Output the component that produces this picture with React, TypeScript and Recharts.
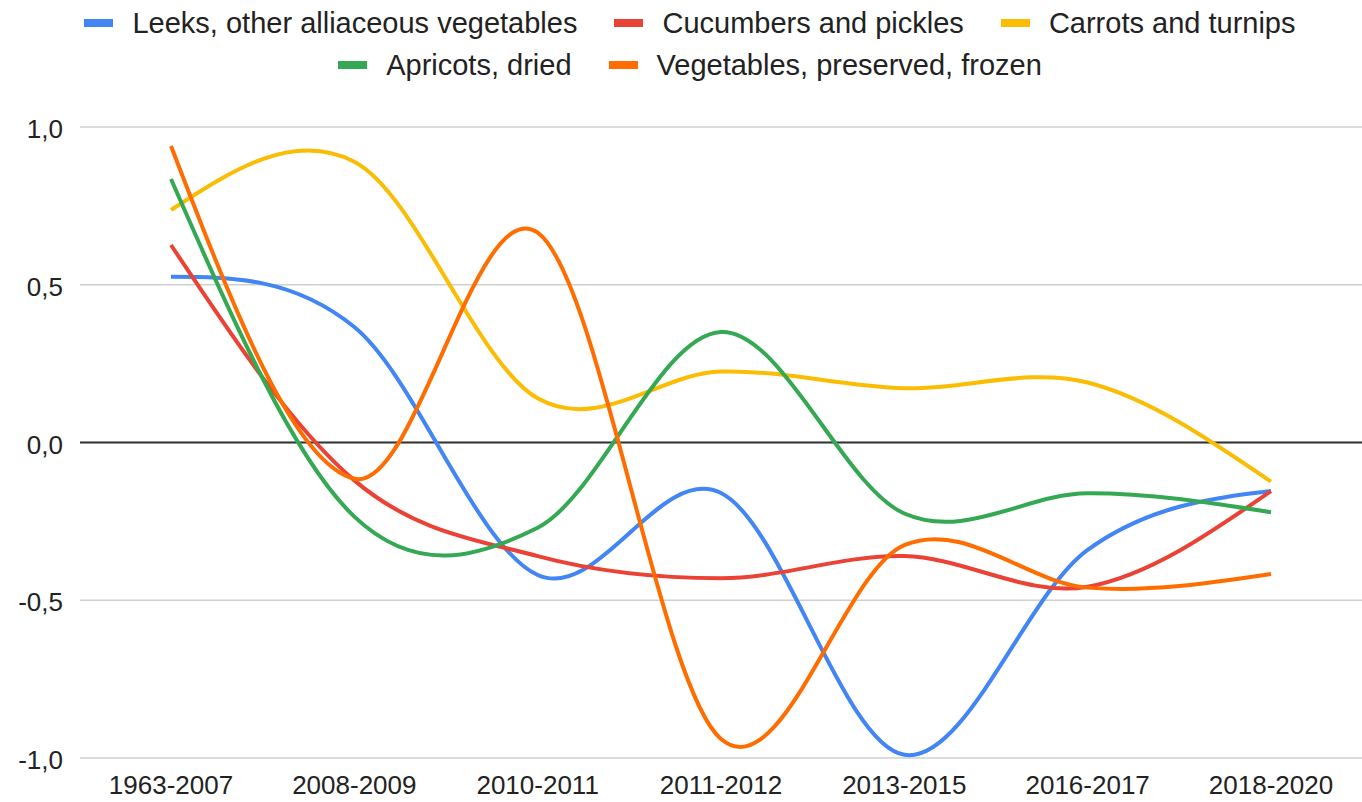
import React from 'react';
import { LineChart, Line, XAxis, YAxis, CartesianGrid, ReferenceLine, Legend } from 'recharts';

const categories = ['1963-2007', '2008-2009', '2010-2011', '2011-2012', '2013-2015', '2016-2017', '2018-2020'];
const leeks = [0.525, 0.366, -0.42, -0.16, -0.99, -0.34, -0.154];
const cucumbers = [0.626, -0.12, -0.36, -0.43, -0.36, -0.457, -0.154];
const carrots = [0.737, 0.89, 0.14, 0.225, 0.172, 0.19, -0.124];
const apricots = [0.835, -0.235, -0.27, 0.35, -0.225, -0.161, -0.221];
const vegFrozen = [0.94, -0.115, 0.665, -0.94, -0.325, -0.46, -0.417];
const yTicks = [-1, -0.5, 0, 0.5, 1];

const seriesNames = [
  'Leeks, other alliaceous vegetables',
  'Cucumbers and pickles',
  'Carrots and turnips',
  'Apricots, dried',
  'Vegetables, preserved, frozen',
];
const seriesColors = ['#4285F4', '#EA4335', '#FBBC04', '#34A853', '#FF6D01'];
const seriesValues = [leeks, cucumbers, carrots, apricots, vegFrozen];
const seriesKeys = ['s0', 's1', 's2', 's3', 's4'];

const data = categories.map((c, i) => {
  const row: any = { category: c };
  seriesKeys.forEach((k, s) => {
    row[k] = seriesValues[s][i];
  });
  return row;
});

// Catmull-Rom style smoothing with natural (zero 2nd derivative) ends
function smoothCurve(context: any) {
  let pts: number[][] = [];
  return {
    areaStart() {},
    areaEnd() {},
    lineStart() {
      pts = [];
    },
    point(x: number, y: number) {
      pts.push([+x, +y]);
    },
    lineEnd() {
      const n = pts.length;
      if (n === 0) return;
      context.moveTo(pts[0][0], pts[0][1]);
      if (n === 1) return;
      if (n === 2) {
        context.lineTo(pts[1][0], pts[1][1]);
        return;
      }
      for (let i = 0; i < n - 1; i++) {
        const p1 = pts[i];
        const p2 = pts[i + 1];
        let c1x = NaN, c1y = NaN, c2x = NaN, c2y = NaN;
        if (i > 0) {
          const p0 = pts[i - 1];
          c1x = p1[0] + (p2[0] - p0[0]) / 6;
          c1y = p1[1] + (p2[1] - p0[1]) / 6;
        }
        if (i + 2 < n) {
          const p3 = pts[i + 2];
          c2x = p2[0] - (p3[0] - p1[0]) / 6;
          c2y = p2[1] - (p3[1] - p1[1]) / 6;
        }
        if (isNaN(c1x)) {
          c1x = (p1[0] + c2x) / 2;
          c1y = (p1[1] + c2y) / 2;
        }
        if (isNaN(c2x)) {
          c2x = (p2[0] + c1x) / 2;
          c2y = (p2[1] + c1y) / 2;
        }
        context.bezierCurveTo(c1x, c1y, c2x, c2y, p2[0], p2[1]);
      }
    },
  };
}

const FONT = '"Liberation Sans", Arial, sans-serif';

const LegendItem = ({ idx }: { idx: number }) => (
  <div style={{ display: 'flex', alignItems: 'center', margin: '0 18.5px' }}>
    <div style={{ width: 29, height: 8, background: seriesColors[idx], marginRight: 19 }} />
    <span style={{ fontSize: 29, color: '#222', fontFamily: FONT, whiteSpace: 'nowrap' }}>{seriesNames[idx]}</span>
  </div>
);

const renderLegend = () => (
  <div style={{ height: 100, width: 1362, paddingLeft: 18, boxSizing: 'border-box' }}>
    <div style={{ display: 'flex', justifyContent: 'center', height: 42, alignItems: 'center', paddingTop: 2 }}>
      {[0, 1, 2].map((i) => (
        <LegendItem key={i} idx={i} />
      ))}
    </div>
    <div style={{ display: 'flex', justifyContent: 'center', height: 42, alignItems: 'center' }}>
      {[3, 4].map((i) => (
        <LegendItem key={i} idx={i} />
      ))}
    </div>
  </div>
);

export default function App() {
  return (
    <div style={{ position: 'absolute', left: 0, top: 0, width: 1362, height: 802, background: '#fff' }}>
      <LineChart width={1362} height={802} data={data} margin={{ top: 27, right: 0, bottom: 0, left: 0 }}>
        <Legend verticalAlign="top" content={renderLegend} wrapperStyle={{ top: 0, left: 0, width: 1362, height: 100 }} />
        <CartesianGrid vertical={false} stroke="#cfcfcf" strokeWidth={1.6} />
        <XAxis
          dataKey="category"
          axisLine={false}
          tickLine={false}
          tickSize={0}
          tickMargin={18}
          height={44}
          interval={0}
          padding={{ left: 91, right: 91 }}
          tick={{ fontSize: 26, fill: '#222', fontFamily: FONT }}
        />
        <YAxis
          width={80}
          domain={[-1, 1]}
          ticks={yTicks}
          axisLine={false}
          tickLine={false}
          tickSize={0}
          tickMargin={17}
          tick={{ fontSize: 26, fill: '#222', fontFamily: FONT, dy: 2 }}
          tickFormatter={(v: number) => v.toFixed(1).replace('.', ',')}
        />
        <ReferenceLine y={0} stroke="#333" strokeWidth={2} />
        {seriesKeys.map((k, s) => (
          <Line
            key={k}
            dataKey={k}
            name={seriesNames[s]}
            stroke={seriesColors[s]}
            strokeWidth={4}
            dot={false}
            activeDot={false}
            type={smoothCurve as any}
            isAnimationActive={false}
          />
        ))}
      </LineChart>
    </div>
  );
}
